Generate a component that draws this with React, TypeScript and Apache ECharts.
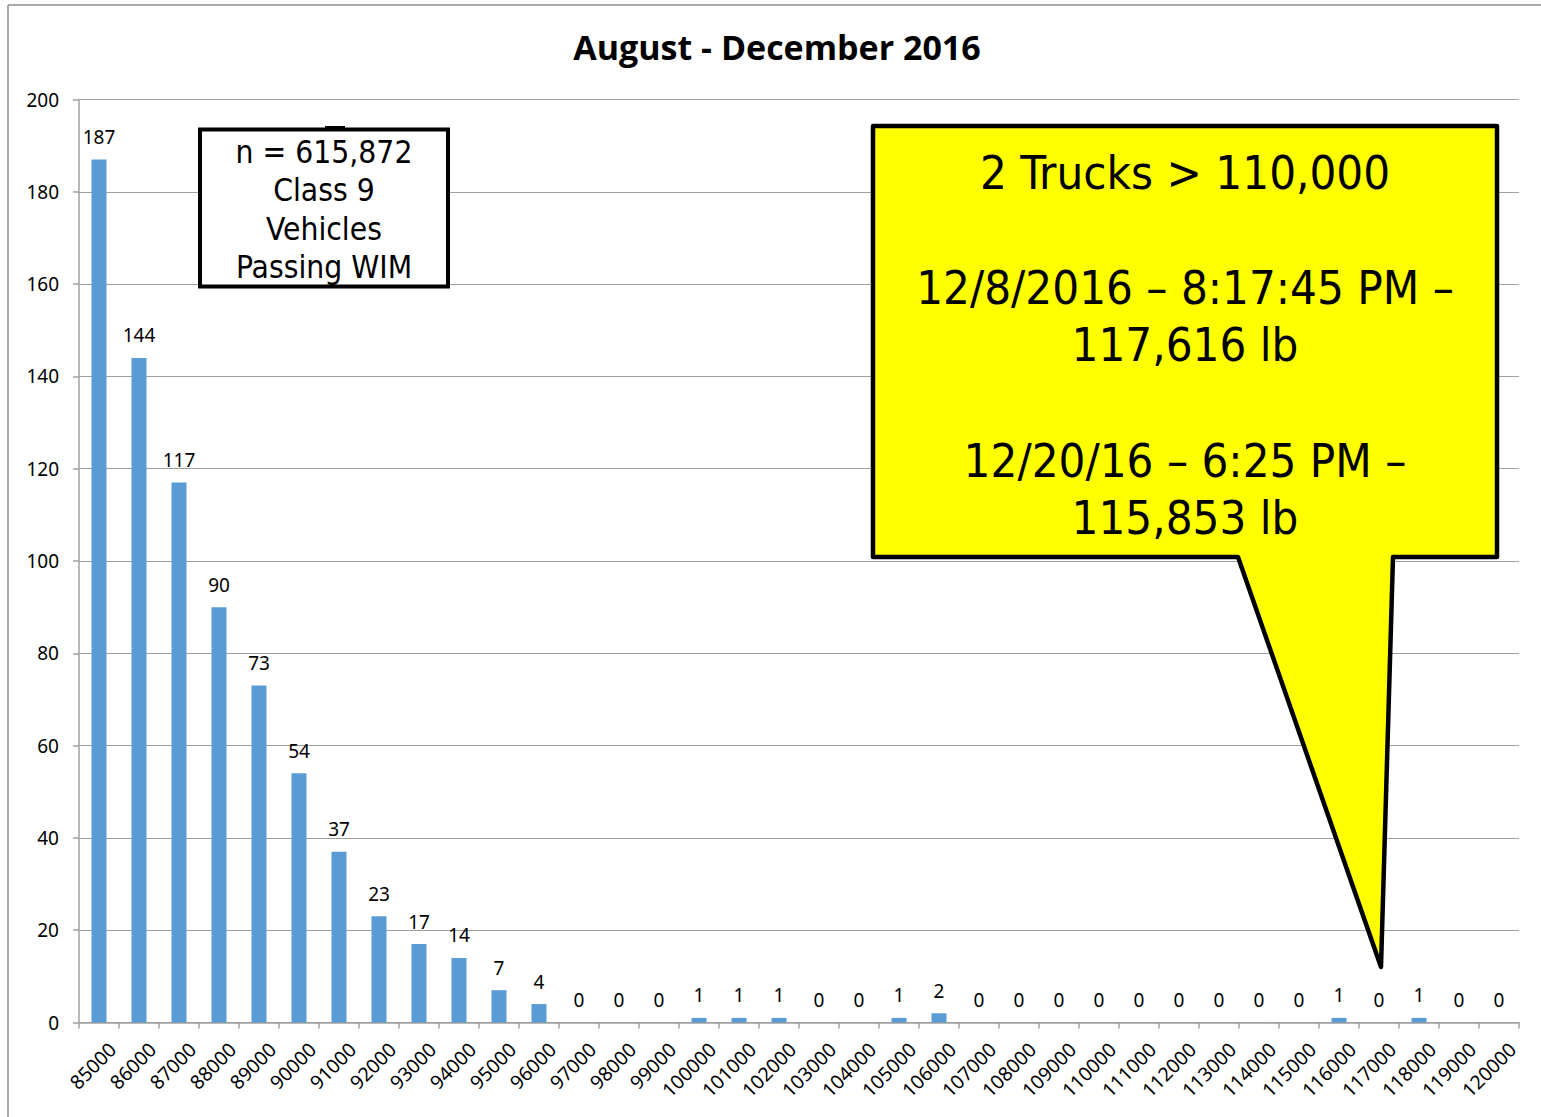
import React, { useEffect, useRef } from "react";
import * as echarts from "echarts";

const categories = [
  "85000", "86000", "87000", "88000", "89000", "90000", "91000", "92000", "93000",
  "94000", "95000", "96000", "97000", "98000", "99000", "100000", "101000", "102000",
  "103000", "104000", "105000", "106000", "107000", "108000", "109000", "110000",
  "111000", "112000", "113000", "114000", "115000", "116000", "117000", "118000",
  "119000", "120000",
];

const counts = [
  187, 144, 117, 90, 73, 54, 37, 23, 17, 14, 7, 4, 0, 0, 0, 1, 1, 1, 0, 0, 1, 2,
  0, 0, 0, 0, 0, 0, 0, 0, 0, 1, 0, 1, 0, 0,
];

const titleText = "August - December 2016";
const boxLines = ["n = 615,872", "Class 9", "Vehicles", "Passing WIM"];
const calloutLines = [
  "2 Trucks > 110,000",
  "",
  "12/8/2016 \u2013 8:17:45 PM \u2013",
  "117,616 lb",
  "",
  "12/20/16 \u2013 6:25 PM \u2013",
  "115,853 lb",
];

const FONT = "'Noto Sans', 'Open Sans', sans-serif";
const TAHOMA = "'DejaVu Sans Condensed', 'DejaVu Sans', sans-serif";

export default function App() {
  const ref = useRef<HTMLDivElement>(null);

  useEffect(() => {
    if (!ref.current) return;
    const chart = echarts.init(ref.current, undefined, { renderer: "svg" });

    const boxTexts = boxLines.map((t, i) => ({
      type: "text",
      x: 324,
      y: 152 + i * 38.3,
      z: 110,
      style: {
        text: t,
        fill: "#000",
        font: `31.5px ${TAHOMA}`,
        align: "center",
        verticalAlign: "middle",
      },
    }));

    const calloutTexts = calloutLines
      .map((t, i) => ({ t, i }))
      .filter((o) => o.t !== "")
      .map(({ t, i }) => ({
        type: "text",
        x: 1185,
        y: 172 + i * 57.6,
        z: 110,
        style: {
          text: t,
          fill: "#000",
          font: `47px ${TAHOMA}`,
          align: "center",
          verticalAlign: "middle",
        },
      }));

    chart.setOption({
      animation: false,
      backgroundColor: "#fff",
      title: {
        text: titleText,
        left: 772,
        top: 25,
        textAlign: "center",
        textStyle: {
          fontFamily: "'Open Sans', sans-serif",
          fontWeight: "bold",
          fontSize: 34,
          color: "#000",
        },
      },
      grid: { left: 79, right: 22, top: 99.5, bottom: 94.5, containLabel: false },
      xAxis: {
        type: "category",
        data: categories,
        axisLine: { lineStyle: { color: "#a0a0a0", width: 1.5 } },
        axisTick: { show: true, length: 6, lineStyle: { color: "#a0a0a0", width: 1.5 } },
        axisLabel: {
          rotate: 45,
          interval: 0,
          margin: 10,
          verticalAlign: "top",
          padding: [9, 0, 0, 0],
          fontFamily: FONT,
          fontSize: 19.5,
          color: "#000",
        },
      },
      yAxis: {
        type: "value",
        min: 0,
        max: 200,
        interval: 20,
        axisLine: { show: true, lineStyle: { color: "#a0a0a0", width: 1.5 } },
        axisTick: { show: true, length: 6, lineStyle: { color: "#a0a0a0", width: 1.5 } },
        splitLine: { lineStyle: { color: "#a0a0a0", width: 1.2 } },
        axisLabel: {
          margin: 20,
          fontFamily: FONT,
          fontSize: 19,
          color: "#000",
        },
      },
      series: [
        {
          type: "bar",
          data: counts,
          barWidth: 15,
          itemStyle: { color: "#5b9bd5" },
          label: {
            show: true,
            position: "top",
            distance: 13,
            fontFamily: FONT,
            fontSize: 19,
            color: "#000",
          },
        },
      ],
      graphic: [
        {
          type: "line",
          z: 100,
          shape: { x1: 8, y1: 5, x2: 1541, y2: 5 },
          style: { stroke: "#8c8c8c", lineWidth: 1.5 },
        },
        {
          type: "line",
          z: 100,
          shape: { x1: 8, y1: 5, x2: 8, y2: 1117 },
          style: { stroke: "#8c8c8c", lineWidth: 1.5 },
        },
        {
          type: "rect",
          z: 105,
          shape: { x: 200, y: 129.5, width: 248, height: 157 },
          style: { fill: "#fff", stroke: "#000", lineWidth: 4 },
        },
        {
          type: "rect",
          z: 106,
          shape: { x: 325, y: 126, width: 20, height: 3 },
          style: { fill: "#000" },
        },
        ...boxTexts,
        {
          type: "polygon",
          z: 105,
          shape: {
            points: [
              [873, 126],
              [1497, 126],
              [1497, 557],
              [1393, 557],
              [1381, 967],
              [1238, 557],
              [873, 557],
            ],
          },
          style: { fill: "#ffff00", stroke: "#000", lineWidth: 4.5, lineJoin: "round" },
        },
        ...calloutTexts,
      ],
    });

    return () => chart.dispose();
  }, []);

  return (
    <div
      ref={ref}
      style={{ position: "fixed", left: 0, top: 0, width: 1541, height: 1117 }}
    />
  );
}
